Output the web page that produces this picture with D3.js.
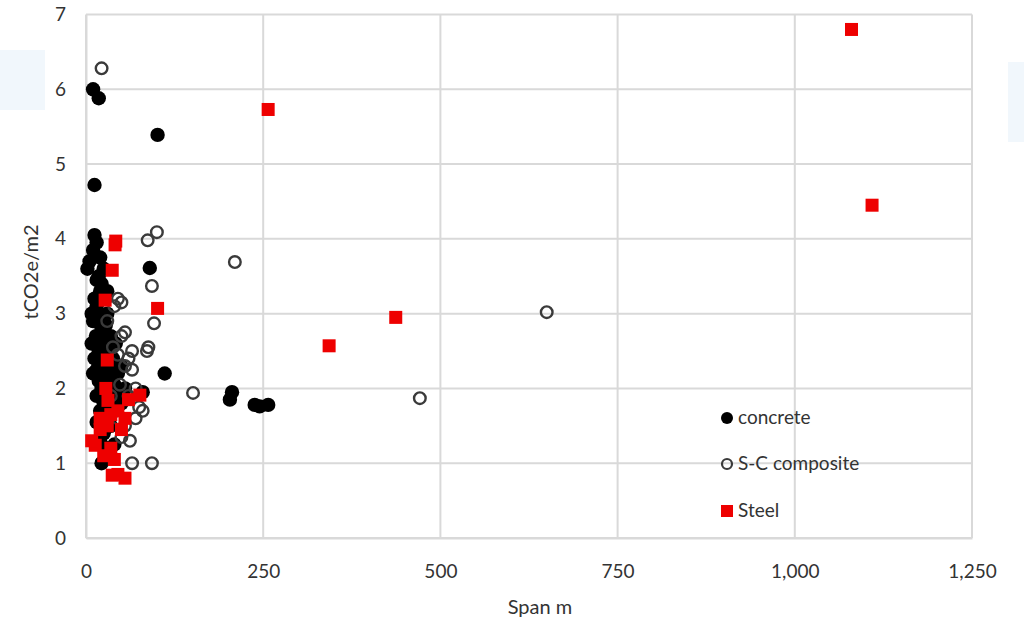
<!DOCTYPE html>
<html><head><meta charset="utf-8">
<script src="https://cdn.jsdelivr.net/npm/d3@7"></script>
<style>
body{margin:0;background:#fff;}
svg text{font-family:Lato,"Open Sans",sans-serif;fill:#333;}
</style></head><body>
<svg id="c" width="1024" height="626"></svg>
<script>
const xTicks = [0, 250, 500, 750, 1000, 1250];
const yTicks = [0, 1, 2, 3, 4, 5, 6, 7];
const seriesNames = ["concrete", "S-C composite", "Steel"];

const concrete = [
 [10,6.0],[18,5.88],[101,5.39],[12,4.72],[12,4.05],[15,3.95],[10,3.85],[5,3.7],[2,3.6],[18,3.5],
 [22,3.4],[20,3.3],[25,3.2],[15,3.1],[18,2.95],[10,2.9],[22,2.8],[14,2.7],[25,2.65],[8,2.6],
 [18,2.5],[28,2.45],[12,2.4],[20,2.35],[30,2.3],[15,2.25],[25,2.2],[35,2.15],[18,2.1],[40,2.05],
 [22,2.0],[30,1.95],[45,1.95],[15,1.9],[35,1.85],[25,1.8],[50,1.8],[20,1.7],[40,1.7],[30,1.6],
 [15,1.55],[35,1.5],[25,1.4],[20,1.3],[30,1.2],[28,1.1],[22,1.0],[40,1.25],[90,3.61],[111,2.2],
 [80,1.95],[206,1.95],[203,1.85],[238,1.78],[257,1.78],[245,1.76],[50,2.3],[45,2.2],[55,2.0],
 [38,2.4],[42,2.6],[30,3.0],[20,3.75],[12,3.2],[28,2.1],[10,2.2],[25,3.6],[30,3.3],[35,2.7],
 [32,2.55],[40,2.3],[38,1.9],[15,3.45],[8,3.0],[28,2.85]
];
const composite = [
 [22,6.28],[87,3.98],[100,4.09],[210,3.69],[93,3.37],[96,2.87],[86,2.5],[88,2.55],[151,1.94],[471,1.87],
 [650,3.02],[65,1.0],[93,1.0],[45,3.2],[50,3.15],[40,3.1],[55,2.75],[50,2.7],[45,2.45],[60,2.4],
 [55,2.3],[65,2.25],[70,2.0],[60,1.9],[75,1.75],[80,1.7],[55,1.5],[62,1.3],[50,1.35],[45,1.6],
 [35,1.9],[48,2.05],[38,2.55],[65,2.5],[70,1.6],[30,2.9]
];
const steel = [
 [1080,6.80],[1109,4.45],[257,5.73],[437,2.95],[343,2.57],[41,3.92],[42,3.97],[37,3.58],[27,3.18],[101,3.07],
 [30,2.38],[31,1.84],[76,1.91],[55,1.6],[13,1.24],[8,1.3],[20,1.45],[37,0.84],[55,0.8],[45,0.85],
 [35,1.2],[25,1.1],[40,1.05],[30,1.5],[50,1.45],[45,1.7],[28,2.0],[35,1.65],[60,1.85],[20,1.6]
];

const svg = d3.select("#c");
const L = 86, R = 972, T = 14.5, B = 538;
const x = d3.scaleLinear().domain([0,1250]).range([L,R]);
const y = d3.scaleLinear().domain([0,7]).range([B,T]);

// faint background artifacts
svg.append("rect").attr("x",0).attr("y",50).attr("width",45).attr("height",60).attr("fill","#f1f7fc");
svg.append("rect").attr("x",1008).attr("y",62).attr("width",16).attr("height",80).attr("fill","#f1f7fc");

// grid
svg.append("g").selectAll("line").data(yTicks).join("line")
 .attr("x1",L).attr("x2",R).attr("y1",d=>y(d)).attr("y2",d=>y(d))
 .attr("stroke","#d9d9d9").attr("stroke-width",2);
svg.append("g").selectAll("line").data(xTicks).join("line")
 .attr("y1",T).attr("y2",B).attr("x1",d=>x(d)).attr("x2",d=>x(d))
 .attr("stroke","#d9d9d9").attr("stroke-width",2);

// axes
const xAxis = svg.append("g").attr("transform",`translate(0,${B})`)
 .call(d3.axisBottom(x).tickValues(xTicks).tickSize(0).tickPadding(27).tickFormat(d3.format(",")));
xAxis.select(".domain").attr("stroke","#d9d9d9").attr("stroke-width",2);
const yAxis = svg.append("g").attr("transform",`translate(${L},0)`)
 .call(d3.axisLeft(y).tickValues(yTicks).tickSize(0).tickPadding(20).tickFormat(d3.format("d")));
yAxis.select(".domain").attr("stroke","#d9d9d9").attr("stroke-width",2);
svg.selectAll(".tick text").attr("font-size",19).attr("fill","#333")
 .attr("font-family",'Lato,"Open Sans",sans-serif');

// titles
svg.append("text").attr("x",540).attr("y",614).attr("text-anchor","middle")
 .attr("font-size",20).text("Span m");
svg.append("text").attr("transform","translate(38,272) rotate(-90)").attr("text-anchor","middle")
 .attr("font-size",20).text("tCO2e/m2");

// points
svg.append("g").selectAll("circle").data(concrete).join("circle")
 .attr("cx",d=>x(d[0])).attr("cy",d=>y(d[1])).attr("r",7.2).attr("fill","#000");
svg.append("g").selectAll("circle").data(composite).join("circle")
 .attr("cx",d=>x(d[0])).attr("cy",d=>y(d[1])).attr("r",5.8).attr("fill","none")
 .attr("stroke","#3a3a3a").attr("stroke-width",2.4);
svg.append("g").selectAll("rect").data(steel).join("rect")
 .attr("x",d=>x(d[0])-6.5).attr("y",d=>y(d[1])-6.5).attr("width",13).attr("height",13).attr("fill","#ee0000");

// legend
const lg = svg.append("g");
const ly = [418,464,511];
lg.append("circle").attr("cx",727).attr("cy",ly[0]).attr("r",6).attr("fill","#000");
lg.append("circle").attr("cx",727).attr("cy",ly[1]).attr("r",5).attr("fill","none").attr("stroke","#3a3a3a").attr("stroke-width",2.2);
lg.append("rect").attr("x",721).attr("y",ly[2]-6).attr("width",12).attr("height",12).attr("fill","#ee0000");
lg.selectAll("text").data(seriesNames).join("text")
 .attr("x",738).attr("y",(d,i)=>ly[i]+6).attr("font-size",19).text(d=>d);
</script>
</body></html>
